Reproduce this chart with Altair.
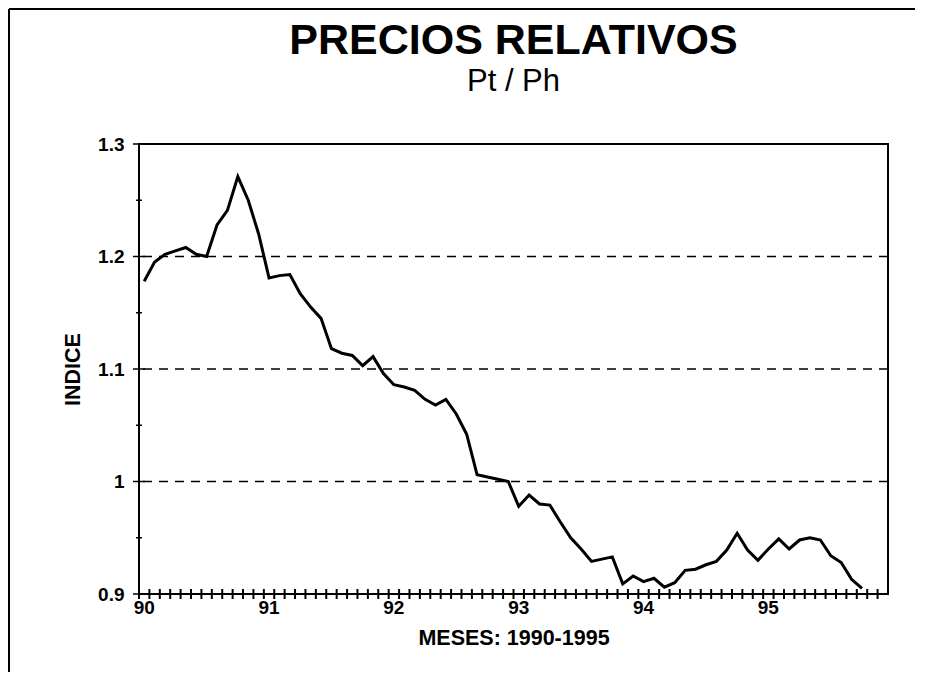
import altair as alt
import pandas as pd

# ---------------- data ----------------
years = ["90", "91", "92", "93", "94", "95"]
month_codes = [f"{y}-{m:02d}" for y in years for m in range(1, 13)]  # 72 monthly slots
year_starts = [f"{y}-01" for y in years]

precios = [
    1.178, 1.195, 1.202, 1.205, 1.208, 1.202, 1.200, 1.228, 1.241, 1.271, 1.250, 1.220,
    1.181, 1.183, 1.184, 1.167, 1.155, 1.145, 1.118, 1.114, 1.112, 1.103, 1.111, 1.096,
    1.086, 1.084, 1.081, 1.073, 1.068, 1.073, 1.060, 1.042, 1.006, 1.004, 1.002, 1.000,
    0.978, 0.988, 0.980, 0.979, 0.964, 0.950, 0.940, 0.929, 0.931, 0.933, 0.909, 0.916,
    0.911, 0.914, 0.906, 0.910, 0.921, 0.922, 0.926, 0.929, 0.939, 0.954, 0.939, 0.930,
    0.940, 0.949, 0.940, 0.948, 0.950, 0.948, 0.934, 0.928, 0.913, 0.905,
]

y_major = [0.9, 1.0, 1.1, 1.2, 1.3]
y_minor = [0.95, 1.05, 1.15, 1.25]
grid_lines = [1.0, 1.1, 1.2]

title_main = "PRECIOS RELATIVOS"
title_sub = "Pt / Ph"
x_title = "MESES: 1990-1995"
y_title = "INDICE"

# ---------------- layout ----------------
W, H = 749, 450
FONT = "Liberation Sans"

line_df = pd.DataFrame({"mes": month_codes[: len(precios)], "v": precios})
ticks_df = pd.DataFrame({"mes": month_codes})
ymaj_df = pd.DataFrame({"v": y_major})
ymin_df = pd.DataFrame({"v": y_minor})
grid_df = pd.DataFrame({"v": grid_lines})
one_df = pd.DataFrame({"a": [0]})

xscale = alt.Scale(type="band", domain=month_codes, paddingInner=0, paddingOuter=0)
yscale = alt.Scale(domain=[0.9, 1.3], nice=False, zero=False)

x_axis = alt.Axis(
    values=year_starts,
    labelExpr="substring(datum.value, 0, 2)",
    bandPosition=0,
    labelAngle=0,
    ticks=False,
    domain=False,
    grid=False,
    labelOverlap=False,
    labelPadding=4,
    title=x_title,
    titlePadding=10,
)
y_axis = alt.Axis(
    values=y_major,
    labelExpr="format(datum.value, '~g')",
    ticks=False,
    domain=False,
    grid=False,
    labelPadding=15,
    title=y_title,
    titlePadding=13,
)

Y = alt.Y("v:Q", scale=yscale, axis=y_axis, title=y_title)

grid = alt.Chart(grid_df).mark_rule(color="black", strokeWidth=1.5, strokeDash=[9, 7]).encode(y=Y)

line = alt.Chart(line_df).mark_line(color="black", strokeWidth=3).encode(
    x=alt.X("mes:O", scale=xscale, bandPosition=0.5, axis=x_axis, title=x_title),
    y=Y,
)

xticks = alt.Chart(ticks_df).mark_rule(color="black", strokeWidth=2).encode(
    x=alt.X("mes:O", scale=xscale, bandPosition=0, axis=x_axis, title=x_title),
    y=alt.value(H - 5),
    y2=alt.value(H + 5),
)

yticks_major = alt.Chart(ymaj_df).mark_rule(color="black", strokeWidth=1.5).encode(
    y=Y, x=alt.value(-6), x2=alt.value(6)
)
yticks_minor = alt.Chart(ymin_df).mark_rule(color="black", strokeWidth=1.5).encode(
    y=Y, x=alt.value(-3), x2=alt.value(3)
)

frame_left = alt.Chart(one_df).mark_rule(color="black", strokeWidth=2).encode(
    x=alt.value(-130), y=alt.value(-135), y2=alt.value(528)
)
frame_top = alt.Chart(one_df).mark_rule(color="black", strokeWidth=2).encode(
    y=alt.value(-135), x=alt.value(-130), x2=alt.value(776)
)

t_main = alt.Chart(pd.DataFrame({"t": [title_main]})).mark_text(
    font=FONT, fontSize=43, fontWeight="bold", align="center", baseline="alphabetic", color="black"
).encode(text="t:N", x=alt.value(W / 2), y=alt.value(-90))
t_sub = alt.Chart(pd.DataFrame({"t": [title_sub]})).mark_text(
    font=FONT, fontSize=31, align="center", baseline="alphabetic", color="black"
).encode(text="t:N", x=alt.value(W / 2), y=alt.value(-53))

chart = (
    alt.layer(grid, line, xticks, yticks_major, yticks_minor, frame_left, frame_top, t_main, t_sub)
    .properties(width=W, height=H, padding=0)
    .configure_view(stroke="black", strokeWidth=2)
    .configure_axis(
        labelFont=FONT,
        labelFontSize=19,
        labelFontWeight="bold",
        labelColor="black",
        titleFont=FONT,
        titleFontSize=21.5,
        titleFontWeight="bold",
        titleColor="black",
    )
)

chart.save("out.html", embed_options={"renderer": "svg", "actions": False})
